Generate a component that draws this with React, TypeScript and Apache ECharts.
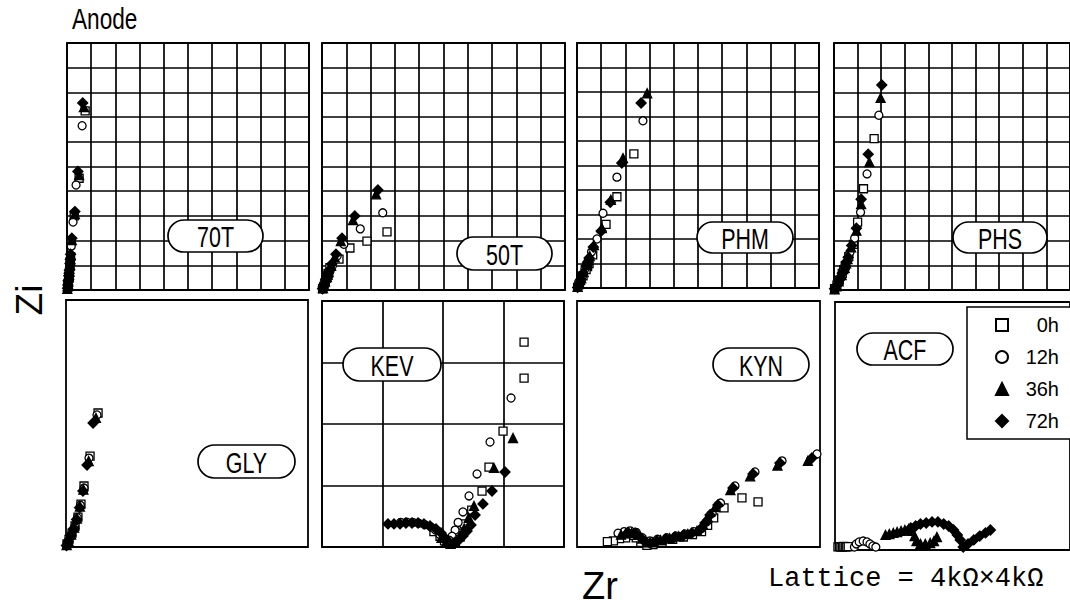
import React, { useEffect, useRef } from "react";
import * as echarts from "echarts";

// ---------- categories / legend ----------
const SERIES_NAMES = ["0h", "12h", "36h", "72h"];
const PANEL_LABELS = ["70T", "50T", "PHM", "PHS", "GLY", "KEV", "KYN", "ACF"];

// ---------- data (Zr, Zi) : top row in kΩ (0-40), bottom row in panel units (0-16) ----------
const T70_0h = [[3.0,29.0],[2.0,18.1],[1.2,12.0],[0.7,7.9],[0.6,5.4],[0.55,4.6],[0.5,3.9],[0.4,2.8],[0.35,2.3],[0.3,1.9],[0.2,1.1],[0.1,0.5]];
const T70_12h = [[2.5,26.6],[1.5,17.0],[1.0,11.0],[0.7,7.1],[0.5,5.0],[0.45,4.3],[0.4,3.6],[0.3,2.5],[0.25,2.0],[0.2,1.6],[0.15,0.9],[0.1,0.4]];
const T70_36h = [[2.8,29.6],[2.0,18.6],[1.3,12.3],[0.8,8.1],[0.6,5.6],[0.55,4.8],[0.5,4.1],[0.4,3.0],[0.35,2.5],[0.3,2.1],[0.2,1.3],[0.1,0.6],[0.05,0.2]];
const T70_72h = [[2.6,30.3],[1.8,19.2],[1.3,12.7],[0.8,8.4],[0.6,5.8],[0.55,5.0],[0.5,4.3],[0.4,3.2],[0.35,2.7],[0.3,2.3],[0.2,1.5],[0.15,0.8],[0.1,0.3]];

const T50_0h = [[10.7,9.4],[7.4,7.9],[4.6,6.8],[2.8,5.0],[1.3,3.6],[1.0,2.7],[0.85,2.3],[0.7,1.9],[0.5,1.2],[0.3,0.6],[0.1,0.2]];
const T50_12h = [[10.0,12.5],[6.3,9.9],[3.6,7.4],[2.5,5.5],[1.7,3.9],[1.2,2.8],[1.0,2.3],[0.8,1.9],[0.5,1.2],[0.3,0.6],[0.1,0.2]];
const T50_36h = [[8.9,15.5],[5.1,11.3],[3.1,7.9],[2.1,5.3],[1.5,3.9],[1.1,2.9],[0.95,2.5],[0.8,2.1],[0.5,1.4],[0.3,0.8],[0.15,0.3]];
const T50_72h = [[9.2,16.2],[5.4,12.0],[3.3,8.4],[2.3,5.8],[1.6,4.2],[1.2,3.2],[1.05,2.8],[0.9,2.4],[0.6,1.6],[0.4,1.0],[0.2,0.5],[0.1,0.2]];

const PHM_0h = [[9.4,21.9],[6.6,14.9],[4.8,10.4],[2.6,5.4],[2.0,4.0],[1.75,3.5],[1.5,3.0],[1.0,2.0],[0.6,1.2],[0.3,0.5],[0.1,0.1]];
const PHM_12h = [[10.9,27.3],[6.6,18.1],[4.3,12.2],[3.3,8.0],[2.4,5.9],[1.8,4.3],[1.55,3.7],[1.3,3.1],[0.9,2.0],[0.5,1.1],[0.2,0.4]];
const PHM_36h = [[11.6,31.8],[7.6,21.2],[5.6,14.4],[4.1,9.8],[2.8,7.0],[2.1,5.2],[1.85,4.5],[1.6,3.8],[1.1,2.6],[0.7,1.6],[0.4,0.8],[0.1,0.2]];
const PHM_72h = [[10.6,30.2],[7.4,20.4],[5.5,14.0],[4.0,9.3],[2.7,6.7],[2.0,4.9],[1.75,4.2],[1.5,3.6],[1.0,2.4],[0.6,1.4],[0.3,0.6],[0.1,0.1]];

const PHS_0h = [[6.8,24.5],[5.0,16.4],[4.0,11.0],[3.3,7.4],[2.5,5.4],[1.9,3.9],[1.65,3.3],[1.4,2.7],[0.9,1.6],[0.5,0.8],[0.1,0.2]];
const PHS_12h = [[7.6,28.3],[5.6,18.8],[4.5,12.6],[3.5,8.4],[2.7,6.1],[2.1,4.4],[1.85,3.7],[1.6,3.1],[1.1,2.0],[0.7,1.1],[0.3,0.4]];
const PHS_36h = [[7.9,31.1],[6.0,20.7],[4.6,13.9],[3.8,9.6],[2.9,6.9],[2.3,5.0],[2.05,4.3],[1.8,3.6],[1.3,2.4],[0.8,1.4],[0.4,0.6],[0.1,0.1]];
const PHS_72h = [[8.1,33.2],[5.8,22.0],[4.6,14.7],[3.8,10.0],[3.0,7.2],[2.4,5.3],[2.15,4.6],[1.9,3.9],[1.4,2.7],[0.9,1.6],[0.5,0.8],[0.1,0.2]];

const GLY_0h = [[2.12,8.68],[1.59,5.89],[1.19,3.95],[0.99,2.78],[0.79,1.94],[0.6,1.36],[0.4,0.9],[0.2,0.5],[0.07,0.2]];
const GLY_12h = [[2.05,8.55],[1.52,5.76],[1.19,3.82],[0.95,2.7],[0.75,1.9],[0.57,1.3],[0.37,0.85],[0.18,0.45],[0.05,0.15]];
const GLY_36h = [[1.98,8.36],[1.5,5.57],[1.15,3.72],[0.92,2.62],[0.72,1.84],[0.54,1.25],[0.34,0.8],[0.16,0.4],[0.04,0.12]];
const GLY_72h = [[1.79,8.03],[1.39,5.31],[1.12,3.63],[0.9,2.55],[0.7,1.78],[0.52,1.2],[0.32,0.75],[0.14,0.36],[0.03,0.1]];

const KEV_0h = [[13.36,13.33],[13.36,10.99],[11.97,7.54],[11.04,5.2],[10.58,3.64],[9.9,2.4],[9.4,1.5],[9.0,0.9],[8.7,0.5],[8.4,0.3],[8.1,0.4],[7.8,0.7],[7.4,1.0]];
const KEV_12h = [[12.5,9.69],[11.11,6.83],[10.25,4.75],[9.72,3.32],[9.32,2.28],[9.0,1.6],[8.8,1.1],[8.6,0.7],[8.4,0.45],[8.1,0.5],[7.8,0.8],[7.5,1.1],[7.2,1.3],[6.8,1.45],[6.4,1.55],[6.0,1.6],[5.6,1.62],[5.2,1.6]];
const KEV_36h = [[12.63,7.09],[11.37,5.14],[10.05,2.67],[9.7,1.9],[9.4,1.2],[9.1,0.7],[8.8,0.35],[8.5,0.2],[8.2,0.3],[7.9,0.6]];
const KEV_72h = [[12.1,4.88],[11.24,3.64],[10.64,2.8],[10.12,2.08],[9.85,1.43],[9.59,1.04],[9.32,0.72],[9.06,0.46],[8.73,0.26],[8.4,0.33],[8.13,0.59],[7.87,0.91],[7.54,1.17],[7.14,1.37],[6.74,1.5],[6.35,1.56],[5.95,1.56],[5.55,1.56],[5.16,1.5],[4.76,1.5],[4.36,1.5]];

const KYN_0h = [[11.92,2.93],[10.86,3.19],[9.68,2.54],[9.0,1.9],[8.6,1.4],[8.2,1.0],[7.6,0.8],[7.0,0.65],[6.3,0.5],[5.6,0.3],[5.0,0.15],[4.6,0.1],[4.2,0.3],[3.9,0.6],[3.6,0.75],[3.2,0.6],[2.8,0.55],[2.4,0.4],[2.0,0.35]];
const KYN_12h = [[15.8,6.05],[13.5,5.6],[11.72,4.88],[10.4,3.97],[9.45,2.86],[8.9,2.2],[8.55,1.65],[8.2,1.2],[7.7,1.0],[7.1,0.85],[6.5,0.72],[5.9,0.6],[5.3,0.5],[4.8,0.4],[4.3,0.6],[3.9,0.95],[3.5,1.05],[3.1,1.0],[2.7,0.9]];
const KYN_36h = [[15.2,5.6],[13.2,5.3],[11.4,4.6],[10.1,3.7],[9.1,2.6],[8.6,1.95],[8.3,1.45],[7.9,1.05],[7.3,0.85],[6.7,0.7],[6.1,0.57],[5.5,0.45],[5.0,0.3],[4.6,0.3],[4.3,0.55],[4.0,0.8],[3.6,0.9],[3.2,0.88],[2.9,0.8]];
const KYN_72h = [[15.47,5.79],[13.36,5.46],[11.59,4.75],[10.27,3.84],[9.28,2.73],[8.76,2.08],[8.43,1.56],[8.1,1.11],[7.57,0.91],[7.04,0.78],[6.45,0.65],[5.86,0.52],[5.27,0.39],[4.81,0.26],[4.48,0.33],[4.15,0.65],[3.82,0.91],[3.36,0.95]];

const ACF_0h = [[0.2,0.2],[0.3,0.22],[0.4,0.18],[0.5,0.2],[0.6,0.24],[0.7,0.2],[0.8,0.2],[0.9,0.22]];
const ACF_12h = [[1.32,0.19],[1.45,0.39],[1.65,0.52],[1.92,0.58],[2.18,0.52],[2.38,0.39],[2.58,0.26],[2.78,0.19]];
const ACF_36h = [[3.44,0.97],[3.7,1.03],[3.97,1.1],[4.23,1.16],[4.5,1.23],[4.76,1.29],[5.02,1.35],[5.22,1.23],[5.42,0.9],[5.55,0.58],[5.82,0.39],[6.15,0.39],[6.48,0.45],[6.74,0.58],[6.94,0.84]];
const ACF_72h = [[5.16,1.42],[5.49,1.55],[5.82,1.68],[6.21,1.74],[6.61,1.81],[7.01,1.81],[7.4,1.68],[7.74,1.55],[8.07,1.29],[8.33,0.97],[8.53,0.65],[8.73,0.19],[9.06,0.39],[9.45,0.65],[9.85,0.9],[10.25,1.1],[10.58,1.29]];

const PANEL_DATA = [
  [T70_0h, T70_12h, T70_36h, T70_72h],
  [T50_0h, T50_12h, T50_36h, T50_72h],
  [PHM_0h, PHM_12h, PHM_36h, PHM_72h],
  [PHS_0h, PHS_12h, PHS_36h, PHS_72h],
  [GLY_0h, GLY_12h, GLY_36h, GLY_72h],
  [KEV_0h, KEV_12h, KEV_36h, KEV_72h],
  [KYN_0h, KYN_12h, KYN_36h, KYN_72h],
  [ACF_0h, ACF_12h, ACF_36h, ACF_72h],
];
const AXIS_MAX = [40, 40, 40, 40, 16, 16, 16, 16];
const SHOW_GRID = [true, true, true, true, false, true, false, false];

// ---------- layout (pixels) ----------
const GRIDS = [
  { left: 67, top: 43, width: 242, height: 247 },
  { left: 322, top: 43, width: 243, height: 247 },
  { left: 577, top: 43, width: 242, height: 245 },
  { left: 834, top: 43, width: 242, height: 247 },
  { left: 66, top: 300, width: 242, height: 247 },
  { left: 322, top: 301, width: 242, height: 246 },
  { left: 577, top: 301, width: 243, height: 246 },
  { left: 835, top: 302, width: 242, height: 248 },
];
const PILLS = [
  { x: 168, y: 220, w: 95, h: 32 },
  { x: 457, y: 237, w: 95, h: 33 },
  { x: 697, y: 222, w: 96, h: 31 },
  { x: 953, y: 222, w: 94, h: 31 },
  { x: 198, y: 445, w: 97, h: 33 },
  { x: 343, y: 348, w: 98, h: 33 },
  { x: 713, y: 348, w: 96, h: 33 },
  { x: 857, y: 333, w: 96, h: 32 },
];
const SYMBOLS = [
  { symbol: "rect", size: 8, fill: "#fff" },
  { symbol: "circle", size: 8, fill: "#fff" },
  { symbol: "triangle", size: 9, fill: "#000" },
  { symbol: "diamond", size: 10, fill: "#000" },
];

const SANS = "'Liberation Sans', Arial, sans-serif";
const MONO = "'Liberation Mono', 'DejaVu Sans Mono', monospace";

export default function App() {
  const ref = useRef<HTMLDivElement>(null);
  useEffect(() => {
    if (!ref.current) return;
    const chart = echarts.init(ref.current, null, { renderer: "svg" });
    const grid = GRIDS.map((g) => ({
      ...g,
      show: true,
      borderColor: "#000",
      borderWidth: 1.8,
      backgroundColor: "transparent",
    }));
    const axisCommon = (i: number) => ({
      type: "value",
      gridIndex: i,
      min: 0,
      max: AXIS_MAX[i],
      interval: 4,
      axisLine: { show: false },
      axisTick: { show: false },
      axisLabel: { show: false },
      splitLine: { show: SHOW_GRID[i], lineStyle: { color: "#000", width: 1.7 } },
    });
    const xAxis = GRIDS.map((_, i) => axisCommon(i));
    const yAxis = GRIDS.map((_, i) => axisCommon(i));
    const series: any[] = [];
    PANEL_DATA.forEach((sets, i) => {
      sets.forEach((data, k) => {
        const s = SYMBOLS[k];
        series.push({
          type: "scatter",
          name: SERIES_NAMES[k],
          xAxisIndex: i,
          yAxisIndex: i,
          data,
          symbol: s.symbol,
          symbolSize: s.size,
          clip: false,
          silent: true,
          itemStyle: { color: s.fill, borderColor: "#000", borderWidth: 1.3, opacity: 1 },
          z: 3 + k,
        });
      });
    });
    const graphic: any[] = [];
    PILLS.forEach((p, i) => {
      graphic.push({
        type: "rect",
        z: 50,
        shape: { x: p.x, y: p.y, width: p.w, height: p.h, r: p.h / 2 },
        style: { fill: "#fff", stroke: "#000", lineWidth: 1.7 },
      });
      graphic.push({
        type: "text",
        z: 51,
        x: p.x + p.w / 2,
        y: p.y + p.h / 2 + 1,
        scaleX: 0.74,
        style: {
          text: PANEL_LABELS[i],
          fontSize: 29,
          fontFamily: SANS,
          fill: "#000",
          align: "center",
          verticalAlign: "middle",
        },
      });
    });
    graphic.push({
      type: "text",
      x: 72,
      y: 19,
      scaleX: 0.78,
      style: { text: "Anode", fontSize: 29, fontFamily: SANS, fill: "#000", align: "left", verticalAlign: "middle" },
    });
    graphic.push({
      type: "text",
      x: 29,
      y: 300,
      rotation: Math.PI / 2,
      style: { text: "Zi", fontSize: 37, fontFamily: SANS, fill: "#000", align: "center", verticalAlign: "middle" },
    });
    graphic.push({
      type: "text",
      x: 600,
      y: 586,
      style: { text: "Zr", fontSize: 38, fontFamily: SANS, fill: "#000", align: "center", verticalAlign: "middle" },
    });
    graphic.push({
      type: "text",
      x: 768,
      y: 579,
      style: { text: "Lattice = 4kΩ×4kΩ", fontSize: 27, fontFamily: MONO, fill: "#000", align: "left", verticalAlign: "middle" },
    });

    chart.setOption({
      animation: false,
      backgroundColor: "#fff",
      grid,
      xAxis,
      yAxis,
      series,
      graphic,
      legend: {
        data: SERIES_NAMES,
        orient: "vertical",
        left: 967,
        top: 307,
        padding: [8, 15, 8, 28],
        itemGap: 12,
        itemWidth: 12,
        itemHeight: 12,
        backgroundColor: "#fff",
        borderColor: "#000",
        borderWidth: 1.5,
        selectedMode: false,
        formatter: (name: string) => `{t|${name}}`,
        textStyle: {
          rich: {
            t: { width: 46, align: "right", fontSize: 20, lineHeight: 20, fontFamily: SANS, color: "#000" },
          },
        },
      },
    });
    return () => chart.dispose();
  }, []);
  return (
    <div
      ref={ref}
      style={{ position: "fixed", left: 0, top: 0, width: 1070, height: 606, background: "#fff" }}
    />
  );
}
